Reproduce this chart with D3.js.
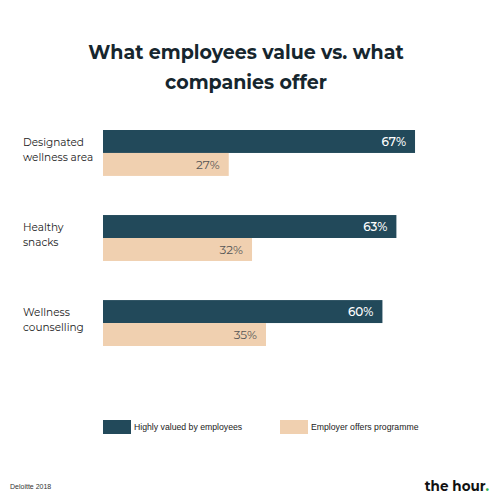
<!DOCTYPE html>
<html>
<head>
<meta charset="utf-8">
<script src="https://cdn.jsdelivr.net/npm/d3@7"></script>
<style>
  body { margin: 0; background: #fff; }
  svg { display: block; }
</style>
</head>
<body>
<svg id="chart" width="500" height="500"></svg>
<script>
// data
const categories = [['Designated', 'wellness area'], ['Healthy', 'snacks'], ['Wellness', 'counselling']]
const valued = [67, 63, 60]
const offered = [27, 32, 35]
const series_names = ['Highly valued by employees', 'Employer offers programme']
const colours = ['#22495a', '#f0d0b0']

const svg = d3.select('#chart')
const label_font = 'Montserrat, "DejaVu Sans", sans-serif'

// title
svg.append('text')
  .attr('x', 246).attr('y', 59)
  .attr('text-anchor', 'middle')
  .attr('font-family', label_font)
  .attr('font-weight', 700)
  .attr('font-size', 19)
  .attr('fill', '#16262e')
  .selectAll('tspan')
  .data(['What employees value vs. what', 'companies offer'])
  .enter()
  .append('tspan')
  .attr('x', 246)
  .attr('dy', (d, i) => i ? 30 : 0)
  .text(d => d)

const x = d3.scaleLinear().domain([0, 70]).range([103, 429])

const y = d3.scaleBand()
  .domain(d3.range(categories.length))
  .range([130, 346])
  .paddingInner(0.46)
  .paddingOuter(0)

const bar_h = y.bandwidth() / 2

const rows = svg.selectAll('.row')
  .data(categories.map((c, i) => ({ name: c, values: [valued[i], offered[i]], i })))
  .enter()
  .append('g')
  .classed('row', true)
  .attr('transform', d => `translate(0,${y(d.i)})`)

// category labels
rows.append('text')
  .attr('x', 23)
  .attr('y', bar_h - 3)
  .attr('font-family', label_font)
  .attr('font-size', 10.5)
  .attr('fill', '#222')
  .selectAll('tspan')
  .data(d => d.name)
  .enter()
  .append('tspan')
  .attr('x', 23)
  .attr('dy', (d, i) => i ? 15 : -4)
  .text(d => d)

const bars = rows.selectAll('.bar')
  .data(d => d.values.map((v, k) => ({ v, k })))
  .enter()

bars.append('rect')
  .classed('bar', true)
  .attr('x', x(0))
  .attr('y', d => d.k * bar_h)
  .attr('width', d => x(d.v) - x(0))
  .attr('height', bar_h)
  .attr('fill', d => colours[d.k])

bars.append('text')
  .attr('x', d => x(d.v) - 9)
  .attr('y', d => d.k * bar_h + bar_h / 2 + 4.5)
  .attr('text-anchor', 'end')
  .attr('font-family', label_font)
  .attr('font-weight', d => d.k ? 400 : 500)
  .attr('font-size', 12)
  .attr('fill', d => d.k ? '#555' : '#fff')
  .text(d => `${d.v}%`)

// legend
const legend_x = [103, 280]
const legend = svg.selectAll('.legend')
  .data(series_names)
  .enter()
  .append('g')
  .classed('legend', true)
  .attr('transform', (d, i) => `translate(${legend_x[i]},420)`)

legend.append('rect')
  .attr('width', 28).attr('height', 14)
  .attr('fill', (d, i) => colours[i])

legend.append('text')
  .attr('x', 31)
  .attr('y', 10)
  .attr('font-family', '"Liberation Sans", Arial, sans-serif')
  .attr('font-size', 8.7)
  .attr('fill', '#222')
  .text(d => d)

// footer
svg.append('text')
  .attr('x', 10).attr('y', 489)
  .attr('font-family', '"Liberation Sans", Arial, sans-serif')
  .attr('font-size', 7)
  .attr('fill', '#333')
  .text('Deloitte 2018')

const brand = svg.append('text')
  .attr('x', 489).attr('y', 491)
  .attr('text-anchor', 'end')
  .attr('font-family', label_font)
  .attr('font-weight', 'bold')
  .attr('font-size', 13.5)
  .attr('fill', '#111')
brand.append('tspan').text('the hour')
brand.append('tspan').attr('fill', '#2bb24c').text('.')
</script>
</body>
</html>
